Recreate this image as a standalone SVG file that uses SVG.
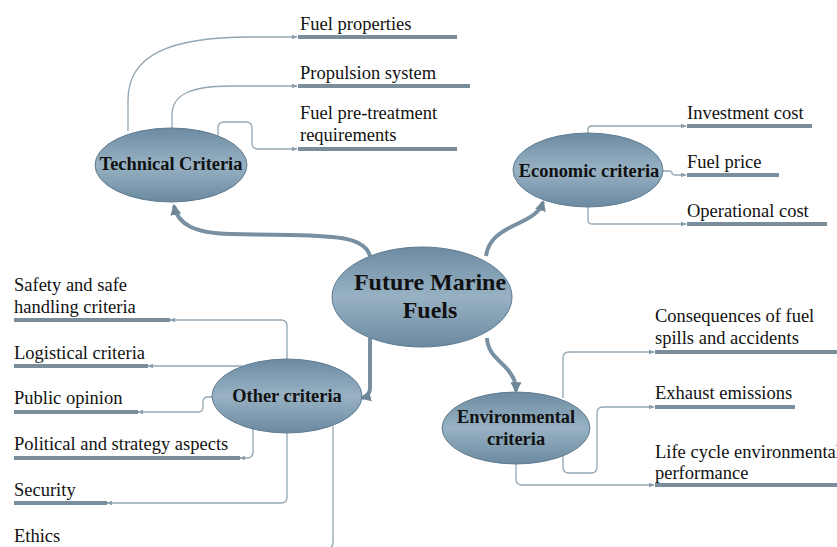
<svg xmlns="http://www.w3.org/2000/svg" width="837" height="547" viewBox="0 0 837 547">
<defs>
<linearGradient id="eg" x1="0" y1="0" x2="0" y2="1">
<stop offset="0" stop-color="#6c8aa1"/>
<stop offset="0.5" stop-color="#98b2c4"/>
<stop offset="1" stop-color="#6b899f"/>
</linearGradient>
<marker id="big" viewBox="0 0 10 10" refX="8" refY="5" markerWidth="11" markerHeight="11" markerUnits="userSpaceOnUse" orient="auto">
<path d="M0,0 L10,5 L0,10 Z" fill="#6f8899"/>
</marker>
<marker id="sm" viewBox="0 0 10 10" refX="9" refY="5" markerWidth="6" markerHeight="6" markerUnits="userSpaceOnUse" orient="auto">
<path d="M0,1 L10,5 L0,9 Z" fill="#8a9eac"/>
</marker>
</defs>
<style>
.node ellipse{fill:url(#eg);stroke:#5e7b91;stroke-width:1}
.nt{font-family:"Liberation Serif",serif;font-weight:bold;font-size:18.4px;fill:#111;text-anchor:middle}
.lt{font-family:"Liberation Serif",serif;font-size:18.5px;fill:#111}
.bar{stroke:#7a8d9b;stroke-width:4;fill:none}
.thin{stroke:#93a6b3;stroke-width:1.3;fill:none;marker-end:url(#sm)}
.thick{stroke:#7890a1;stroke-width:4;fill:none;marker-end:url(#big)}
</style>
<g id="connectors">
<path class="thick" d="M370,256 C365,238 340,236 290,235 L230,234 C195,233 178,225 174,206"/>
<path class="thick" d="M486,256 C488,240 500,232 515,225 C532,217 540,212 543,202"/>
<path class="thick" d="M370,338 L370,388 Q370,396 362,398"/>
<path class="thick" d="M487,338 C488,355 500,360 508,370 C514,378 516,382 516,391"/>
<path class="thin" d="M128,131 L128,100 C128,55 170,37 250,37 L297,37"/>
<path class="thin" d="M172,129 L172,115 C172,95 190,86 230,86 L297,86"/>
<path class="thin" d="M218,136 L218,128 Q218,122 224,122 L246,122 Q252,122 252,128 L252,143 Q252,149 258,149 L297,149"/>
<path class="thin" d="M588,133 L588,130 Q588,126 592,126 L686,126"/>
<path class="thin" d="M661,171 L668,171 Q672,171 672,173 Q672,175 676,175 L686,175"/>
<path class="thin" d="M588,207 L588,220 Q588,224 592,224 L686,224"/>
<path class="thin" d="M287,359 L287,326 Q287,320 281,320 L170,320"/>
<path class="thin" d="M242,366 L148,366"/>
<path class="thin" d="M212,397 L208,397 Q203,397 203,402 L203,407 Q203,412 198,412 L138,412"/>
<path class="thin" d="M245,425 Q253,425 253,432 L253,452 Q253,458 247,458 L240,458"/>
<path class="thin" d="M287,433 L287,497 Q287,503 281,503 L107,503"/>
<path class="thin" d="M333,426 L333,542 Q333,549 326,549 L110,549"/>
<path class="thin" d="M563,398 L563,358 Q563,352 569,352 L654,352"/>
<path class="thin" d="M563,455 L563,467 Q563,473 569,473 L591,473 Q597,473 597,467 L597,413 Q597,407 603,407 L654,407"/>
<path class="thin" d="M516,464 L516,479 Q516,485 522,485 L654,485"/>
</g>
<g id="bars">
<path class="bar" d="M298,37 H457 M298,86 H470 M298,149 H457"/>
<path class="bar" d="M687,126 H812 M687,175 H779 M687,224 H827"/>
<path class="bar" d="M14,320 H170 M14,366 H148 M14,412 H138 M14,458 H240 M14,503 H107"/>
<path class="bar" d="M655,352 H837 M655,407 H795 M655,485 H837"/>
</g>
<g id="center" class="node">
<ellipse cx="422" cy="297" rx="90" ry="50"/>
<text class="nt" x="430" y="290" style="font-size:24px">Future Marine</text>
<text class="nt" x="430" y="318" style="font-size:24px">Fuels</text>
</g>
<g id="technical" class="node">
<ellipse cx="171" cy="165" rx="76" ry="37"/>
<text class="nt" x="171" y="170">Technical Criteria</text>
</g>
<g id="economic" class="node">
<ellipse cx="588" cy="170" rx="75" ry="37"/>
<text class="nt" x="589" y="177">Economic criteria</text>
</g>
<g id="other" class="node">
<ellipse cx="287" cy="396" rx="75" ry="37"/>
<text class="nt" x="287" y="402">Other criteria</text>
</g>
<g id="environmental" class="node">
<ellipse cx="516" cy="428" rx="74" ry="36"/>
<text class="nt" x="516" y="423">Environmental</text>
<text class="nt" x="516" y="445">criteria</text>
</g>
<g id="leaf-fuel-properties"><text class="lt" x="300" y="30">Fuel properties</text></g>
<g id="leaf-propulsion"><text class="lt" x="300" y="79">Propulsion system</text></g>
<g id="leaf-pretreatment"><text class="lt" x="300" y="119">Fuel pre-treatment</text><text class="lt" x="300" y="141">requirements</text></g>
<g id="leaf-investment"><text class="lt" x="687" y="119">Investment cost</text></g>
<g id="leaf-fuel-price"><text class="lt" x="687" y="168">Fuel price</text></g>
<g id="leaf-operational"><text class="lt" x="687" y="217">Operational cost</text></g>
<g id="leaf-safety"><text class="lt" x="14" y="291">Safety and safe</text><text class="lt" x="14" y="313">handling criteria</text></g>
<g id="leaf-logistical"><text class="lt" x="14" y="359">Logistical criteria</text></g>
<g id="leaf-public"><text class="lt" x="14" y="404">Public opinion</text></g>
<g id="leaf-political"><text class="lt" x="14" y="450">Political and strategy aspects</text></g>
<g id="leaf-security"><text class="lt" x="14" y="496">Security</text></g>
<g id="leaf-ethics"><text class="lt" x="14" y="542">Ethics</text></g>
<g id="leaf-consequences"><text class="lt" x="655" y="322">Consequences of fuel</text><text class="lt" x="655" y="344">spills and accidents</text></g>
<g id="leaf-exhaust"><text class="lt" x="655" y="399">Exhaust emissions</text></g>
<g id="leaf-lifecycle"><text class="lt" x="655" y="458">Life cycle environmental</text><text class="lt" x="655" y="479">performance</text></g>
</svg>
